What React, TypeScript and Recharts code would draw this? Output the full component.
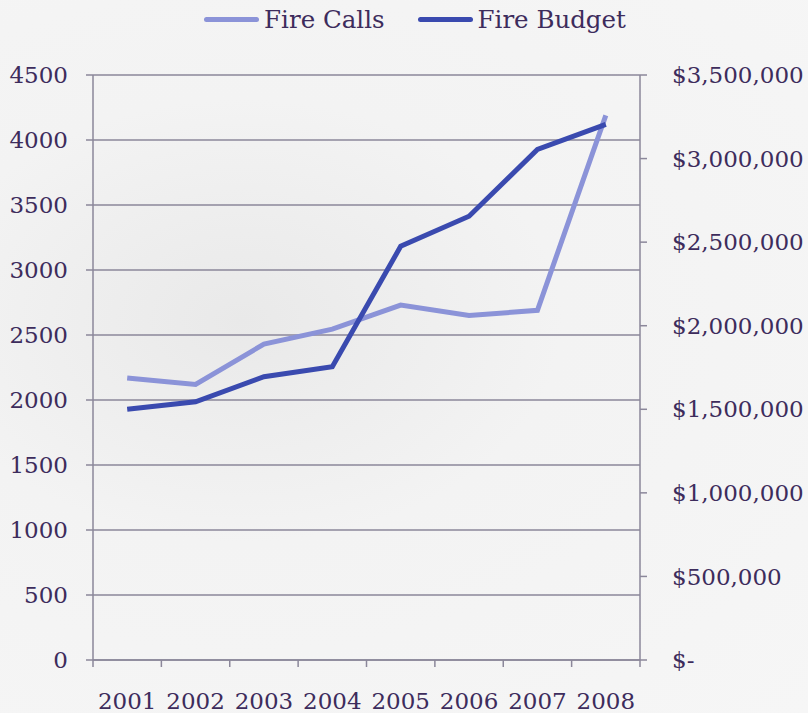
import React from "react";
import {
  LineChart,
  Line,
  XAxis,
  YAxis,
  CartesianGrid,
} from "recharts";

const years = ["2001", "2002", "2003", "2004", "2005", "2006", "2007", "2008"];
const fireCalls = [2170, 2120, 2430, 2545, 2730, 2650, 2690, 4190];
const fireBudget = [1500000, 1545000, 1695000, 1755000, 2475000, 2655000, 3055000, 3205000];
const callTicks = [0, 500, 1000, 1500, 2000, 2500, 3000, 3500, 4000, 4500];
const budgetTicks = [0, 500000, 1000000, 1500000, 2000000, 2500000, 3000000, 3500000];

const data = years.map((year, i) => ({
  year,
  calls: fireCalls[i],
  budget: fireBudget[i],
}));

const W = 808;
const H = 713;
const PLOT_LEFT = 93;
const PLOT_RIGHT = 640;
const PLOT_TOP = 75;
const PLOT_BOTTOM = 660;
const band = (PLOT_RIGHT - PLOT_LEFT) / years.length;

const textColor = "#3d2c5c";
const axisColor = "#8b879a";
const callsColor = "#8b93d8";
const budgetColor = "#3a4aaf";
const font = "'DejaVu Serif', serif";

const money = (v: number) => (v === 0 ? "$-" : "$" + v.toLocaleString("en-US"));

function YearTick(props: any) {
  const { x, y, payload, index } = props;
  const last = index === years.length - 1;
  return (
    <g>
      <line x1={x - band / 2} x2={x - band / 2} y1={y} y2={y + 7} stroke={axisColor} strokeWidth={1.5} />
      {last && (
        <line x1={x + band / 2} x2={x + band / 2} y1={y} y2={y + 7} stroke={axisColor} strokeWidth={1.5} />
      )}
      <text x={x} y={y + 49} textAnchor="middle" fill={textColor} fontSize={23} fontFamily={font}>
        {payload.value}
      </text>
    </g>
  );
}

function Legenda() {
  const items = [
    { name: "Fire Calls", color: callsColor },
    { name: "Fire Budget", color: budgetColor },
  ];
  return (
    <div
      style={{
        position: "absolute",
        top: 5,
        left: 0,
        width: W,
        display: "flex",
        justifyContent: "center",
        paddingLeft: 22,
        boxSizing: "border-box",
        gap: 33,
        fontFamily: font,
        fontSize: 24.5,
        color: textColor,
      }}
    >
      {items.map((item) => (
        <div key={item.name} style={{ display: "flex", alignItems: "center", gap: 5 }}>
          <div style={{ width: 55, height: 5, borderRadius: 3, background: item.color }} />
          <span>{item.name}</span>
        </div>
      ))}
    </div>
  );
}

export default function App() {
  return (
    <div
      style={{
        position: "relative",
        width: W,
        height: H,
        background:
          "radial-gradient(ellipse at 30% 45%, #e9e9e9 0%, #f3f3f3 40%, #f6f6f6 100%)",
      }}
    >
      <style>{`body{margin:0}`}</style>
      <LineChart
        width={W}
        height={H}
        data={data}
        margin={{ top: PLOT_TOP, right: 0, left: 0, bottom: 0 }}
      >
        <CartesianGrid
          yAxisId="left"
          vertical={false}
          stroke={axisColor}
          strokeWidth={1.5}
        />
        <XAxis
          dataKey="year"
          scale="band"
          height={H - PLOT_BOTTOM}
          tickSize={0}
          tickMargin={0}
          tickLine={false}
          axisLine={{ stroke: axisColor, strokeWidth: 1.5 }}
          tick={<YearTick />}
          interval={0}
        />
        <YAxis
          yAxisId="left"
          width={PLOT_LEFT}
          domain={[0, 4500]}
          ticks={callTicks}
          interval={0}
          tickSize={7}
          tickMargin={18}
          axisLine={{ stroke: axisColor, strokeWidth: 1.5 }}
          tickLine={{ stroke: axisColor, strokeWidth: 1.5 }}
          tick={{ fill: textColor, fontSize: 23, fontFamily: font }}
        />
        <YAxis
          yAxisId="right"
          orientation="right"
          width={W - PLOT_RIGHT}
          domain={[0, 3500000]}
          ticks={budgetTicks}
          interval={0}
          tickSize={7}
          tickMargin={25}
          tickFormatter={money}
          axisLine={{ stroke: axisColor, strokeWidth: 1.5 }}
          tickLine={{ stroke: axisColor, strokeWidth: 1.5 }}
          tick={{ fill: textColor, fontSize: 23, fontFamily: font, textAnchor: "start" }}
        />
        <Line
          yAxisId="left"
          dataKey="calls"
          name="Fire Calls"
          type="linear"
          stroke={callsColor}
          strokeWidth={5}
          dot={false}
          isAnimationActive={false}
        />
        <Line
          yAxisId="right"
          dataKey="budget"
          name="Fire Budget"
          type="linear"
          stroke={budgetColor}
          strokeWidth={5}
          dot={false}
          isAnimationActive={false}
        />
      </LineChart>
      <Legenda />
    </div>
  );
}
